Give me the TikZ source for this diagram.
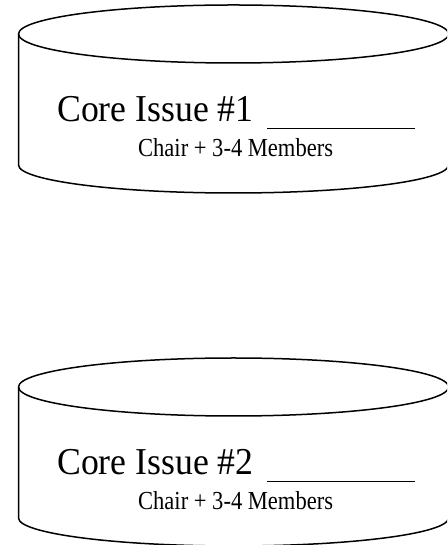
\documentclass[tikz,border=0pt]{standalone}
\usepackage{fontspec}
\setmainfont{Liberation Serif}
\tikzset{
 outline/.style={line width=1.5pt, line join=round},
 bigtext/.style={anchor=base west, inner sep=0pt, xscale=0.94, font=\fontsize{38}{42}\selectfont},
 smalltext/.style={anchor=base west, inner sep=0pt, xscale=0.867, font=\fontsize{26}{30}\selectfont},
 blank/.style={line width=1.2pt}
}
\begin{document}
\begin{tikzpicture}[x=1pt,y=1pt]
\useasboundingbox (0,0) rectangle (447,545);
\clip (0,0) rectangle (447,545);
\foreach \dy/\n in {0/1,353/2} {
 \begin{scope}[yshift=-\dy pt]
 \draw[outline] (233.5,511) ellipse [x radius=215, y radius=29];
 \draw[outline] (18.5,511) -- (18.5,380) arc[start angle=180, end angle=360, x radius=215, y radius=28] -- (448.5,511);
 \node[bigtext] (core\n) at (57,423) {Core Issue \#\n};
 \node[smalltext] (chair\n) at (138,388) {Chair + 3-4 Members};
 \coordinate (ls\n) at (267,416.5);
 \coordinate (le\n) at (415,416.5);
 \draw[blank] (ls\n) -- (le\n);
 \end{scope}
}
\end{tikzpicture}
\end{document}
